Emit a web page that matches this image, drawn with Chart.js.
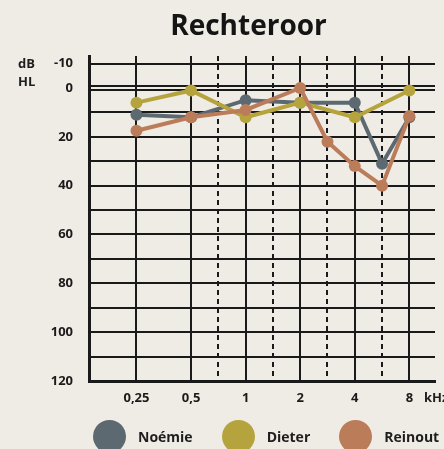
<!DOCTYPE html>
<html>
<head>
<meta charset="utf-8">
<title>Rechteroor</title>
<script src="https://cdn.jsdelivr.net/npm/chart.js@4.4.1/dist/chart.umd.min.js"></script>
<style>
  html, body { margin: 0; padding: 0; background: #efebe5; }
  body { font-family: 'Open Sans', sans-serif; color: #1e1e1e; }
  .wrap { position: relative; width: 444px; height: 449px; overflow: hidden; }
  .title { position: absolute; left: 148px; top: 7px; width: 201px; text-align: center;
           font-weight: 700; font-size: 28px; line-height: 34px; color: #141414; }
  .unit { position: absolute; font-weight: 700; font-size: 13px; line-height: 18px; white-space: nowrap; }
  .legend { position: absolute; left: 93px; top: 420px; display: flex; align-items: center; }
  .legend .item { display: flex; align-items: center; margin-right: 29px; font-weight: 700; font-size: 14px; }
  .legend .dot { width: 33px; height: 33px; border-radius: 50%; margin-right: 12px; }
</style>
</head>
<body>
<div class="wrap">
  <canvas id="audiogram" width="444" height="449"></canvas>
  <div class="title">Rechteroor</div>
  <div class="unit" style="left:18px;top:54px">dB</div>
  <div class="unit" style="left:18px;top:72px">HL</div>
  <div class="unit" style="left:424px;top:388px">kHz</div>
  <div class="legend" id="legend"></div>
</div>
<script>
const freqTicks = [0.25, 0.5, 1, 2, 4, 8];
const freqLabels = ['0,25', '0,5', '1', '2', '4', '8'];
const halfTicks = [0.75, 1.5, 3, 6];
const dbLabels = [-10, 0, 20, 40, 60, 80, 100, 120];
const dbLines = [-10, -1, 0, 1, 10, 20, 30, 40, 50, 60, 70, 80, 90, 100, 110, 120];

const seriesNames = ['Noémie', 'Dieter', 'Reinout'];
const seriesColors = ['#5c6970', '#b5a43d', '#bb7c5a'];

const noemieKhz = [0.25, 0.5, 1, 2, 4, 6, 8];
const noemieDb = [11, 12, 5, 6, 6, 31, 12];
const dieterKhz = [0.25, 0.5, 1, 2, 4, 8];
const dieterDb = [6, 1, 12, 6, 12, 1];
const reinoutKhz = [0.25, 0.5, 1, 2, 3, 4, 6, 8];
const reinoutDb = [17.5, 12, 9, 0, 22, 32, 40, 11.5];

// audiogram columns: one step per octave, in-between frequencies sit halfway
const colPos = { 0.25: 0, 0.5: 1, 0.75: 1.5, 1: 2, 1.5: 2.5, 2: 3, 3: 3.5, 4: 4, 6: 4.5, 8: 5 };

const INK = '#1a1a1a';
const FONT = 'Open Sans';

function points(khz, db) {
  return khz.map((f, i) => ({ x: colPos[f], y: db[i] }));
}

function series(i, khz, db) {
  return {
    label: seriesNames[i],
    data: points(khz, db),
    borderColor: seriesColors[i],
    backgroundColor: seriesColors[i],
    pointBackgroundColor: seriesColors[i],
    borderWidth: 4,
    pointRadius: 6,
    pointHoverRadius: 6,
    pointBorderWidth: 0,
    tension: 0,
    order: 3 - i
  };
}

new Chart(document.getElementById('audiogram'), {
  type: 'line',
  data: {
    datasets: [
      series(0, noemieKhz, noemieDb),
      series(1, dieterKhz, dieterDb),
      series(2, reinoutKhz, reinoutDb)
    ]
  },
  options: {
    responsive: false,
    animation: false,
    layout: { padding: { left: 0, right: 9, top: 56, bottom: 38 } },
    plugins: {
      legend: { display: false },
      tooltip: { enabled: false }
    },
    scales: {
      x: {
        type: 'linear',
        min: -0.87,
        max: 5.47,
        afterBuildTicks: s => {
          s.ticks = freqTicks.concat(halfTicks).map(f => ({ value: colPos[f] })).sort((a, b) => a.value - b.value);
        },
        afterFit: s => { s.height = 30; },
        grid: { color: INK, lineWidth: 2, drawTicks: false },
        border: {
          color: INK,
          width: 3,
          dash: c => (c.tick && !Number.isInteger(c.tick.value)) ? [5, 4] : []
        },
        ticks: {
          autoSkip: false,
          maxRotation: 0,
          padding: 9,
          color: INK,
          font: { family: FONT, size: 13, weight: 'bold' },
          callback: v => {
            const i = freqTicks.findIndex(f => colPos[f] === v);
            return i >= 0 ? freqLabels[i] : '';
          }
        }
      },
      y: {
        type: 'linear',
        reverse: true,
        min: -13.1,
        max: 120,
        afterBuildTicks: s => { s.ticks = dbLines.map(v => ({ value: v })); },
        afterFit: s => { s.width = 89; },
        grid: {
          lineWidth: 2,
          drawTicks: false,
          color: c => (c.tick && c.tick.value === 0) ? 'rgba(0,0,0,0)' : INK
        },
        border: { color: INK, width: 3 },
        ticks: {
          autoSkip: false,
          padding: 16,
          color: INK,
          font: { family: FONT, size: 13, weight: 'bold' },
          callback: v => dbLabels.includes(v) ? String(v) : ''
        }
      }
    }
  }
});

const legend = document.getElementById('legend');
seriesNames.forEach((name, i) => {
  const item = document.createElement('div');
  item.className = 'item';
  const dot = document.createElement('div');
  dot.className = 'dot';
  dot.style.background = seriesColors[i];
  item.appendChild(dot);
  item.appendChild(document.createTextNode(name));
  legend.appendChild(item);
});
</script>
</body>
</html>
